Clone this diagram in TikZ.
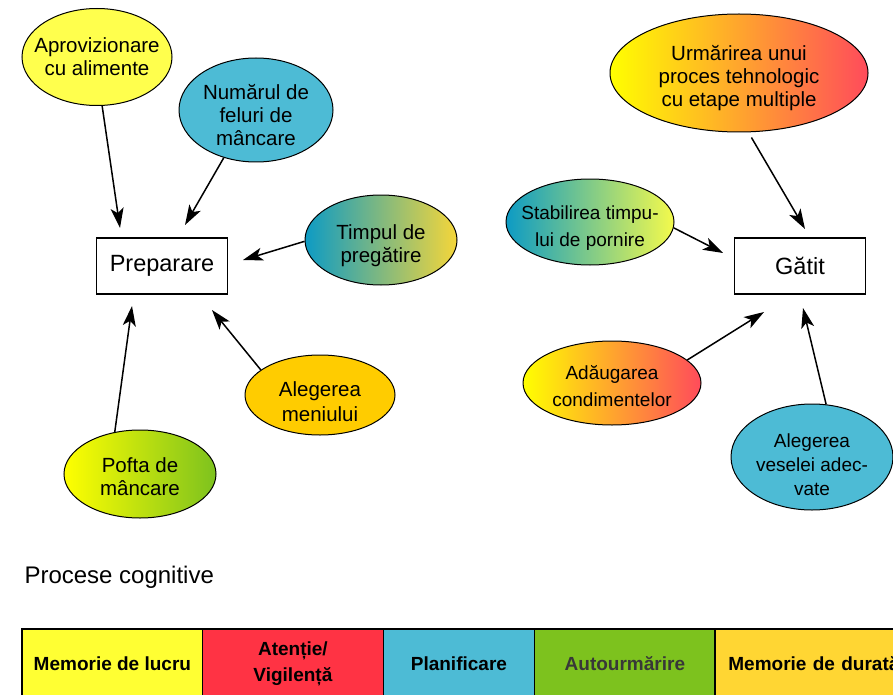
\documentclass[tikz,border=0pt]{standalone}
\usepackage{fontspec}
\setmainfont{Liberation Sans}
\usetikzlibrary{shapes.geometric,arrows.meta}

\definecolor{sunyellow}{HTML}{FFFF4D}
\definecolor{skyblue}{HTML}{4DBBD5}
\definecolor{petrol}{HTML}{0D9BC4}
\definecolor{sand}{HTML}{F5D63A}
\definecolor{lemon}{HTML}{F4FA4C}
\definecolor{tomato}{HTML}{FF4B5B}
\definecolor{amber}{HTML}{FFCC00}
\definecolor{leaf}{HTML}{7DC21E}
\definecolor{cellyellow}{HTML}{FFFF33}
\definecolor{cellred}{HTML}{FF3344}
\definecolor{cellgold}{HTML}{FFD633}

\newcommand{\drop}[1]{\rule{0pt}{#1}}

\begin{document}
\begin{tikzpicture}[x = 1pt, y = -1pt, line width = 1pt,
                    bubble/.style = {ellipse, draw, inner sep = -10pt, align = center,
                                     font = \fontsize{20.5}{23}\selectfont},
                    smalltext/.style = {font = \fontsize{19}{#1}\selectfont},
                    task/.style = {rectangle, draw, line width = 1.5pt, minimum width = 131pt,
                                   minimum height = 56pt, font = \fontsize{23.5}{26}\selectfont},
                    link/.style = {line width = 1.5pt, -{Stealth[length = 20pt, width = 13pt, inset = 5pt]}},
                    cell/.style = {rectangle, draw, line width = 0.8pt, minimum height = 68pt,
                                   anchor = north west, align = center, inner sep = 0pt,
                                   font = \bfseries\fontsize{19}{26}\selectfont}]
    \useasboundingbox (0,0) rectangle (893,695);

    \node [bubble, fill = sunyellow, minimum width = 150pt, minimum height = 97pt] (aprov) at (97,57) {Aprovizionare\\cu alimente};
    \node [bubble, fill = skyblue, minimum width = 154pt, minimum height = 104pt] (feluri) at (256,110) {\drop{25pt}Numărul de\\feluri de\\mâncare};
    \node [bubble, left color = petrol, right color = sand, minimum width = 152pt, minimum height = 90pt] (timp) at (381,240) {\drop{26pt}Timpul de\\pregătire};
    \node [task] (prep) at (162,266) {Preparare};
    \node [bubble, font = \fontsize{20.5}{25}\selectfont, fill = amber, minimum width = 150pt, minimum height = 80pt] (meniu) at (320,395) {\drop{29pt}Alegerea\\meniului};
    \node [bubble, left color = yellow, right color = leaf, minimum width = 152pt, minimum height = 88pt] (pofta) at (140,474) {\drop{21pt}Pofta de\\mâncare};

    \node [bubble, left color = yellow, right color = tomato, minimum width = 258pt, minimum height = 118pt] (urm) at (739,73) {\drop{26pt}Urmărirea unui\\proces tehnologic\\cu etape multiple};
    \node [bubble, smalltext = 27, left color = petrol, right color = lemon, minimum width = 168pt, minimum height = 86pt] (pornire) at (590,222) {\drop{26pt}Stabilirea timpu-\\lui de pornire};
    \node [task] (gatit) at (800,266) {Gătit};
    \node [bubble, smalltext = 27, left color = yellow, right color = tomato, minimum width = 178pt, minimum height = 84pt] (cond) at (612,383) {\drop{20pt}Adăugarea\\condimentelor};
    \node [bubble, smalltext = 24, fill = skyblue, minimum width = 162pt, minimum height = 106pt] (vesela) at (812,457) {\drop{30pt}Alegerea\\veselei adec-\\vate};

    \coordinate (p1) at (120,228);
    \coordinate (p2) at (185,225);
    \coordinate (p3) at (243,260);
    \coordinate (p4) at (132,306);
    \coordinate (p5) at (212,310);
    \coordinate (g1) at (805,229);
    \coordinate (g2) at (723,253);
    \coordinate (g3) at (764,312);
    \coordinate (g4) at (803,308);

    \draw [link] (aprov.276) -- (p1);
    \draw [link] (feluri.236) -- (p2);
    \draw [link] (timp.181) -- (p3);
    \draw [link] (pofta.121) -- (p4);
    \draw [link] (meniu.157) -- (p5);
    \draw [link, shorten < = 6pt] (urm.279) -- (g1);
    \draw [link] (pornire.356) -- (g2);
    \draw [link] (cond.17) -- (g3);
    \draw [link] (vesela.75) -- (g4);

    \node [anchor = west, inner sep = 0pt, font = \fontsize{24}{28}\selectfont] (titlu) at (24,577) {Procese cognitive};

    \node [cell, fill = cellyellow, minimum width = 180pt] (c1) at (22,629) {Memorie de lucru};
    \node [cell, fill = cellred, minimum width = 181pt] (c2) at (202,629) {Atenție/\\Vigilență};
    \node [cell, fill = skyblue, minimum width = 151pt] (c3) at (383,629) {Planificare};
    \node [cell, fill = leaf, minimum width = 181pt, text = black!78] (c4) at (534,629) {Autourmărire};
    \node [cell, fill = cellgold, align = left, text width = 180pt, inner xsep = 13pt] (c5) at (715,629) {Memorie de durată};
    \draw [line width = 2.5pt] (c1.south west) -- (c1.north west) -- (c5.north east);
    \draw [line width = 2.5pt] (c5.north west) -- (c5.south west);
  \end{tikzpicture}
\end{document}
